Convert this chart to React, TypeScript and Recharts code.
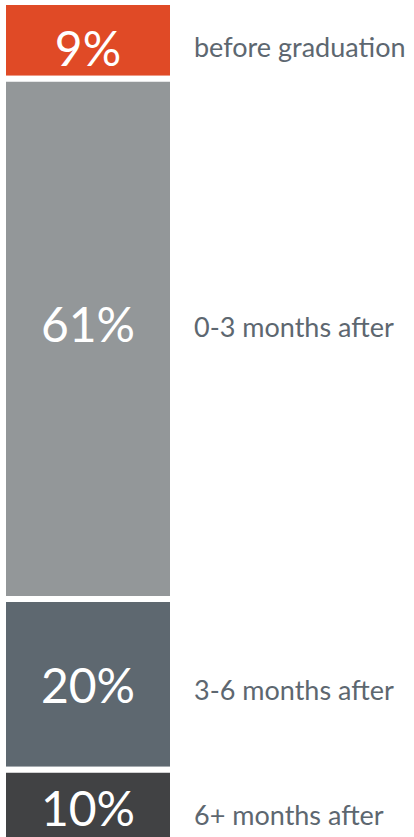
import { BarChart, Bar, XAxis, YAxis, LabelList } from 'recharts';

const categories = ['before graduation', '0-3 months after', '3-6 months after', '6+ months after'];
const shares = [9, 61, 20, 10];
const COLORS = ['#e04a26', '#939799', '#5e6870', '#414244'];

// small vertical nudges so labels sit where the original put them
const PCT_DY = [7, -15, 0, -5];
const NAME_DY = [6, -12, 5, 2];

const keys = ['s0', 's1', 's2', 's3'];
const row: Record<string, number | string> = { name: 'all' };
shares.forEach((v, i) => {
  row[keys[i]] = v;
});
const data = [row];

function makeLabel(index: number) {
  return (props: any) => {
    const x = Number(props.x);
    const y = Number(props.y);
    const width = Number(props.width);
    const height = Number(props.height);
    const cy = y + height / 2;
    return (
      <g>
        <text
          x={x + width / 2}
          y={cy + PCT_DY[index]}
          textAnchor="middle"
          dominantBaseline="central"
          fill="#ffffff"
          fontSize={48}
          fontWeight={400}
          fontFamily="Lato, sans-serif"
        >
          {shares[index]}%
        </text>
        <text
          x={x + width + 21}
          y={cy + NAME_DY[index]}
          textAnchor="start"
          dominantBaseline="central"
          fill="#5d6770"
          fontSize={27}
          fontFamily="Lato, sans-serif"
        >
          {categories[index]}
        </text>
      </g>
    );
  };
}

export default function App() {
  return (
    <div style={{ position: 'absolute', top: 0, left: 0, width: 414, height: 837, overflow: 'hidden', background: '#fff' }}>
      <BarChart
        width={414}
        height={855}
        data={data}
        margin={{ top: 2, right: 241, bottom: 0, left: 3 }}
        barCategoryGap={0}
      >
        <XAxis dataKey="name" hide />
        <YAxis type="number" domain={[0, 100]} reversed hide />
        {keys.map((k, i) => (
          <Bar key={k} dataKey={k} stackId="a" fill={COLORS[i]} stroke="#ffffff" strokeWidth={6} isAnimationActive={false}>
            <LabelList dataKey={k} content={makeLabel(i)} />
          </Bar>
        ))}
      </BarChart>
    </div>
  );
}
